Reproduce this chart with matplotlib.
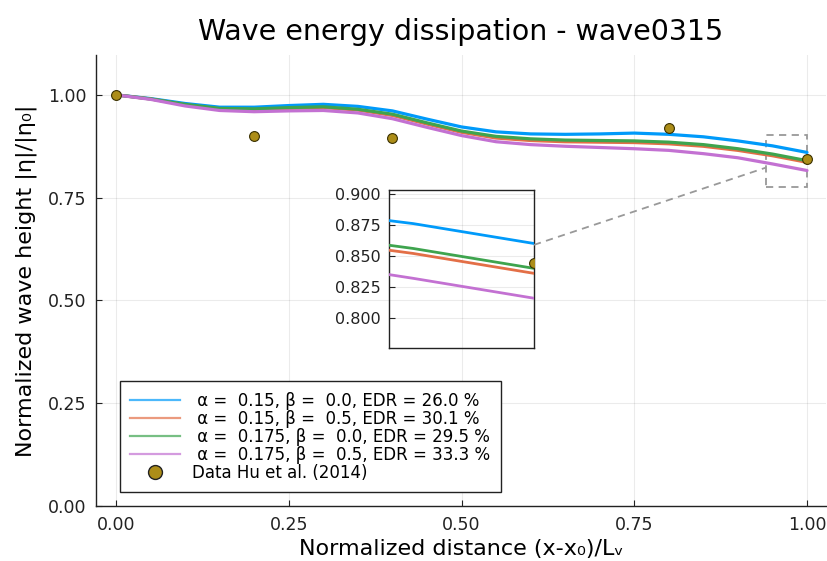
import matplotlib
matplotlib.use("Agg")
import matplotlib.pyplot as plt
from matplotlib.lines import Line2D
from matplotlib.patches import Rectangle
import numpy as np

# Normalized distance along the flume
x_pos = [0.00, 0.05, 0.10, 0.15, 0.20, 0.25, 0.30, 0.35, 0.40, 0.45, 0.50,
         0.55, 0.60, 0.65, 0.70, 0.75, 0.80, 0.85, 0.90, 0.95, 1.00]

# Normalized wave height for each parameter set
h_a015_b00 = [1.000, 0.991, 0.979, 0.970, 0.970, 0.974, 0.977, 0.972, 0.961, 0.941, 0.922,
              0.910, 0.905, 0.904, 0.905, 0.907, 0.904, 0.898, 0.888, 0.876, 0.860]
h_a015_b05 = [1.000, 0.990, 0.976, 0.966, 0.964, 0.967, 0.969, 0.963, 0.950, 0.929, 0.909,
              0.895, 0.889, 0.886, 0.885, 0.884, 0.881, 0.875, 0.865, 0.852, 0.836]
h_a0175_b00 = [1.000, 0.990, 0.977, 0.967, 0.966, 0.969, 0.971, 0.965, 0.953, 0.932, 0.912,
               0.899, 0.893, 0.890, 0.889, 0.888, 0.885, 0.879, 0.869, 0.856, 0.840]
h_a0175_b05 = [1.000, 0.989, 0.973, 0.962, 0.959, 0.961, 0.962, 0.956, 0.942, 0.921, 0.901,
               0.886, 0.879, 0.875, 0.872, 0.869, 0.865, 0.857, 0.847, 0.832, 0.816]

series_labels = [
    " α =  0.15, β =  0.0, EDR = 26.0 %",
    " α =  0.15, β =  0.5, EDR = 30.1 %",
    " α =  0.175, β =  0.0, EDR = 29.5 %",
    " α =  0.175, β =  0.5, EDR = 33.3 %",
]

# Measurements
obs_x = [0.0, 0.2, 0.4, 0.8, 1.0]
obs_h = [1.000, 0.900, 0.895, 0.919, 0.844]
obs_label = "Data Hu et al. (2014)"

x_ticks = [0.00, 0.25, 0.50, 0.75, 1.00]
y_ticks = [0.00, 0.25, 0.50, 0.75, 1.00]
inset_y_ticks = [0.800, 0.825, 0.850, 0.875, 0.900]

colors = ["#009AFA", "#E36F47", "#3EA44E", "#C371D2"]
obs_color = "#AC8D18"

plt.rcParams["font.family"] = ["DejaVu Sans"]

fig = plt.figure(figsize=(8.27, 5.61), dpi=100)
ax = fig.add_axes([0.1161, 0.098, 0.8827, 0.804])

series = [h_a015_b00, h_a015_b05, h_a0175_b00, h_a0175_b05]
for h, c in zip(series, colors):
    ax.plot(x_pos, h, color=c, lw=2.3, solid_capstyle="round",
            solid_joinstyle="round", zorder=3)
ax.scatter(obs_x, obs_h, s=50, color=obs_color, edgecolor="#3a3000",
           linewidth=0.8, zorder=4)

ax.set_xlim(-0.029, 1.0275)
ax.set_ylim(0.0, 1.097)
ax.set_xticks(x_ticks)
ax.set_xticklabels([f"{v:.2f}" for v in x_ticks])
ax.set_yticks(y_ticks)
ax.set_yticklabels([f"{v:.2f}" for v in y_ticks])
ax.tick_params(direction="in", length=4, width=0.8, labelsize=12.5,
               colors="#222222", labelcolor="#222222", pad=7)
ax.grid(True, color="#000000", alpha=0.08, lw=0.8)
ax.set_axisbelow(True)
for s in ["top", "right"]:
    ax.spines[s].set_visible(False)
for s in ["left", "bottom"]:
    ax.spines[s].set_color("#222222")
    ax.spines[s].set_linewidth(1.0)

ax.set_title("Wave energy dissipation - wave0315", fontsize=20.5, pad=11)
ax.set_xlabel("Normalized distance (x-x₀)/Lᵥ", fontsize=16, labelpad=4)
ax.set_ylabel("Normalized wave height |η|/|η₀|", fontsize=16, labelpad=8)

# Legend
handles = [Line2D([0], [0], color=c, lw=1.6, alpha=0.7) for c in colors]
handles.append(Line2D([0], [0], marker="o", ls="none", markersize=10,
                      markerfacecolor=obs_color, markeredgecolor="#222222",
                      markeredgewidth=1.0))
leg = ax.legend(handles, series_labels + [obs_label], loc="lower left",
                bbox_to_anchor=(0.033, 0.031), fontsize=12, frameon=True,
                fancybox=False, edgecolor="#222222", framealpha=1.0,
                handlelength=3.0, handletextpad=0.7, borderpad=0.62,
                labelspacing=0.0, borderaxespad=0.0)
leg.get_frame().set_linewidth(1.0)

# Zoom window on the outlet region
zx0, zx1 = 0.94, 1.0
zy0, zy1 = 0.776, 0.903
rect = Rectangle((zx0, zy0), zx1 - zx0, zy1 - zy0, fill=False,
                 edgecolor="#999999", lw=1.3, ls=(0, (4, 3)), zorder=2)
ax.add_patch(rect)

axin = fig.add_axes([0.4704, 0.3797, 0.1753, 0.2816])
axin.set_facecolor("none")
for h, c in zip(series, colors):
    axin.plot(x_pos, h, color=c, lw=2.0, zorder=3)
axin.scatter(obs_x, obs_h, s=50, color=obs_color, edgecolor="#3a3000",
             linewidth=0.8, zorder=4)
axin.set_xlim(zx0, zx1)
axin.set_ylim(zy0, zy1)
axin.set_xticks([])
axin.set_yticks(inset_y_ticks)
axin.set_yticklabels([f"{v:.3f}" for v in inset_y_ticks])
axin.tick_params(direction="in", length=4, width=0.8, labelsize=11.5,
                 colors="#222222", labelcolor="#222222", pad=6)
axin.grid(True, axis="y", color="#000000", alpha=0.08, lw=0.8)
for s in axin.spines.values():
    s.set_color("#222222")
    s.set_linewidth(1.0)

# Connector between the centres of the two boxes, drawn only outside them
fig.canvas.draw()
inv = fig.transFigure.inverted()
bb_in = axin.get_position()
c_in = np.array([(bb_in.x0 + bb_in.x1) / 2, (bb_in.y0 + bb_in.y1) / 2])
r0 = inv.transform(ax.transData.transform((zx0, zy0)))
r1 = inv.transform(ax.transData.transform((zx1, zy1)))
c_r = (r0 + r1) / 2
d = c_r - c_in
t_start = (bb_in.x1 - c_in[0]) / d[0]
t_end = (r0[0] - c_in[0]) / d[0]
p0 = c_in + t_start * d
p1 = c_in + t_end * d
fig.add_artist(Line2D([p0[0], p1[0]], [p0[1], p1[1]], transform=fig.transFigure,
                      color="#999999", lw=1.3, ls=(0, (4, 3))))

fig.savefig("out.png", dpi=100)
